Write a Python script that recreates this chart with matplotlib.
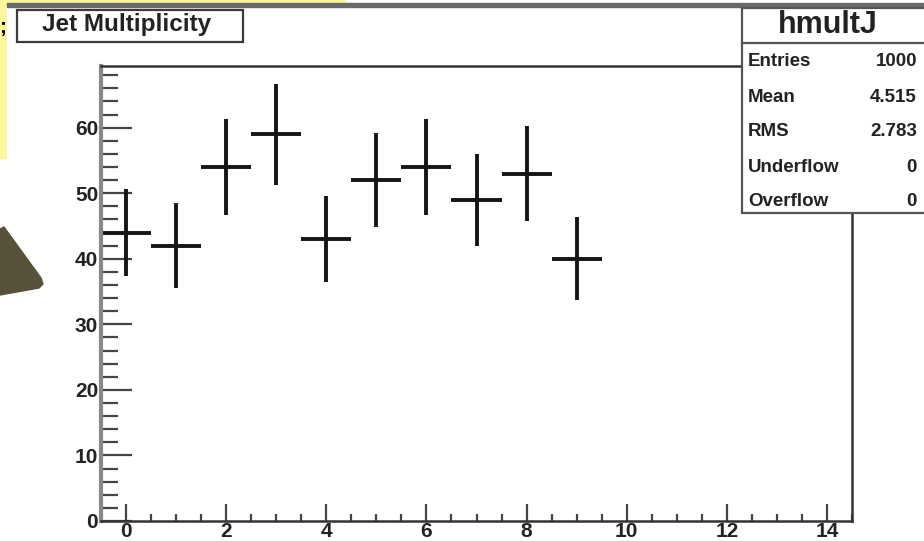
import numpy as np
import matplotlib.pyplot as plt
from matplotlib.patches import Rectangle, Polygon
from matplotlib.ticker import MultipleLocator

# jet multiplicity histogram: bin contents for n = 0..9
n_jets = [0, 1, 2, 3, 4, 5, 6, 7, 8, 9]
counts = [44, 42, 54, 59, 43, 52, 54, 49, 53, 40]

stat_names = ["Entries", "Mean", "RMS", "Underflow", "Overflow"]
stat_values = ["1000", "4.515", "2.783", "0", "0"]

W, H = 924, 541
plt.rcParams['font.family'] = ['Liberation Sans', 'DejaVu Sans']
fig = plt.figure(figsize=(W / 100, H / 100), dpi=100)


def pixel_axes(z):
    a = fig.add_axes([0, 0, 1, 1], zorder=z)
    a.set_xlim(0, W)
    a.set_ylim(H, 0)
    a.axis('off')
    a.patch.set_alpha(0)
    return a


# slide pieces behind the canvas
bg = pixel_axes(0)
bg.add_patch(Rectangle((0, 0), 345, 158, color='#fff59a'))
bg.add_patch(Rectangle((7, 3), W - 7, H, color='white'))
bg.add_patch(Rectangle((7, 3), W - 7, 4, color='#6a6a6a'))
bg.add_patch(Polygon([(0, 229), (4, 227), (41, 278), (43, 284), (39, 288), (0, 295)],
                     closed=True, color='#57513a'))
bg.text(-1, 27, ';', fontsize=15, fontweight='bold', ha='left', va='center')

# canvas title box
bg.add_patch(Rectangle((17, 10), 226, 32, fc='white', ec='#3a3a3a', lw=1.6))
bg.text(127, 25, 'Jet Multiplicity', fontsize=17.5, fontweight='bold',
        ha='center', va='center', color='#222')

# histogram frame
ax = fig.add_axes([101 / W, 1 - 521 / H, 751 / W, 455 / H], zorder=1)
ax.errorbar(n_jets, counts, xerr=0.5, yerr=np.sqrt(counts), fmt='none',
            ecolor='#151515', elinewidth=2.8, capsize=0)
ax.set_xlim(-0.5, 14.5)
ax.set_ylim(0, 69.4)
ax.xaxis.set_major_locator(MultipleLocator(2))
ax.xaxis.set_minor_locator(MultipleLocator(0.5))
ax.yaxis.set_major_locator(MultipleLocator(10))
ax.yaxis.set_minor_locator(MultipleLocator(2))
ax.tick_params(axis='both', which='both', direction='in', color='#444',
               labelsize=15, labelcolor='#222')
ax.tick_params(axis='y', which='major', length=22, width=1.6, pad=2)
ax.tick_params(axis='y', which='minor', length=12, width=1.6)
ax.tick_params(axis='x', which='major', length=12, width=1.6, pad=1)
ax.tick_params(axis='x', which='minor', length=5, width=1.6)
for lab in ax.get_xticklabels() + ax.get_yticklabels():
    lab.set_fontweight('bold')
for s in ['top', 'right', 'bottom']:
    ax.spines[s].set_color('#333')
    ax.spines[s].set_linewidth(1.8)
ax.spines['left'].set_color('#888')
ax.spines['left'].set_linewidth(3)

# stats box on top of the frame
fg = pixel_axes(2)
fg.add_patch(Rectangle((742, 8), 200, 205, fc='white', ec='#555', lw=1.6))
fg.plot([742, 924], [43, 43], color='#555', lw=1.6)
fg.text(828, 25, 'hmultJ', fontsize=22, fontweight='bold', ha='center',
        va='center', color='#222')
for i, (name, val) in enumerate(zip(stat_names, stat_values)):
    y = 62 + 35 * i
    fg.text(748, y, name, fontsize=13.5, fontweight='bold', ha='left',
            va='center', color='#222')
    fg.text(917, y, val, fontsize=13.5, fontweight='bold', ha='right',
            va='center', color='#222')

fig.savefig('out.png', dpi=100)
